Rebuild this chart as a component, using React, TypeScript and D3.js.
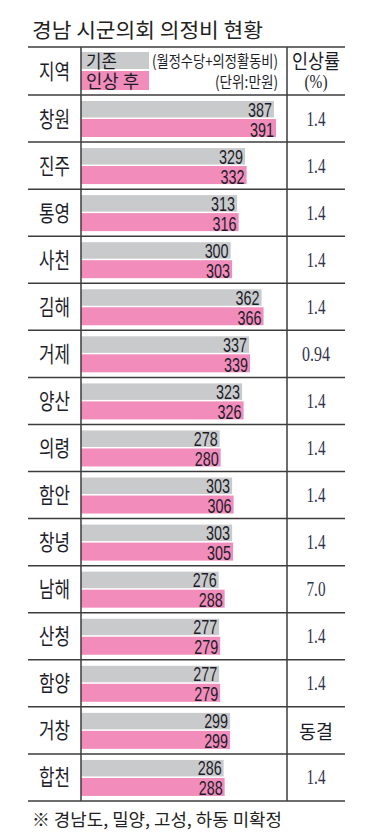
import * as React from "react";
import * as d3 from "d3";

const regions = ["창원", "진주", "통영", "사천", "김해", "거제", "양산", "의령", "함안", "창녕", "남해", "산청", "함양", "거창", "합천"];
const before = [387, 329, 313, 300, 362, 337, 323, 278, 303, 303, 276, 277, 277, 299, 286];
const after = [391, 332, 316, 303, 366, 339, 326, 280, 306, 305, 288, 279, 279, 299, 288];
const rates = ["1.4", "1.4", "1.4", "1.4", "1.4", "0.94", "1.4", "1.4", "1.4", "1.4", "7.0", "1.4", "1.4", "동결", "1.4"];

const W = 371;
const H = 838;

const sans = "'Noto Sans CJK KR', 'Noto Sans', sans-serif";
const narrow = "'Liberation Sans Narrow', 'Liberation Sans', Arial, sans-serif";
const serif = "'Liberation Serif', 'DejaVu Serif', serif";

const GRAY = "#c9cacc";
const PINK = "#f18cbb";
const LINE = "#3c3c3c";
const TEXT = "#1d1d2a";

export default function App() {
    // table frame
    let left = 28, right = 345;
    let col1 = 81, col2 = 287;
    let top = 47, headBottom = 95, bottom = 801;

    let y = d3.scaleBand<string>().domain(regions).range([headBottom, bottom]).padding(0);
    let x = d3.scaleLinear().domain([0, 400]).range([col1, col1 + 199.5]);

    let rateX = (col2 + right) / 2;
    let nameX = (left + col1) / 2;

    return (
        <svg width={W} height={H} style={{ position: "absolute", left: 0, top: 0, background: "#fff" }}>
            <text x={32} y={38} fontFamily={sans} fontSize={20.5} fill="#222" textLength={231} lengthAdjust="spacingAndGlyphs">경남 시군의회 의정비 현황</text>

            {/* header */}
            <rect x={col1} y={52} width={68} height={17} fill={GRAY} />
            <rect x={col1} y={71} width={68} height={19} fill={PINK} />
            <text x={nameX} y={79} textAnchor="middle" fontFamily={sans} fontSize={21} fill={TEXT} textLength={31} lengthAdjust="spacingAndGlyphs">지역</text>
            <text x={86} y={67.5} fontFamily={sans} fontSize={18.5} fill={TEXT} textLength={31} lengthAdjust="spacingAndGlyphs">기존</text>
            <text x={86} y={88} fontFamily={sans} fontSize={18.5} fill={TEXT} textLength={53} lengthAdjust="spacingAndGlyphs">인상 후</text>
            <text x={278} y={67} textAnchor="end" fontFamily={sans} fontSize={16} fill={TEXT} textLength={126} lengthAdjust="spacingAndGlyphs">(월정수당+의정활동비)</text>
            <text x={278} y={88} textAnchor="end" fontFamily={sans} fontSize={16} fill={TEXT} textLength={63} lengthAdjust="spacingAndGlyphs">(단위:만원)</text>
            <text x={rateX} y={69} textAnchor="middle" fontFamily={sans} fontSize={20} fill={TEXT} textLength={48} lengthAdjust="spacingAndGlyphs">인상률</text>
            <text x={rateX} y={88} textAnchor="middle" fontFamily={serif} fontSize={18} fill={TEXT} textLength={23} lengthAdjust="spacingAndGlyphs">(%)</text>

            {regions.map((r, i) => {
                let y0 = y(r) as number;
                let rate = rates[i];
                return (
                    <g key={r}>
                        <rect x={x(0)} y={y0 + 6} width={x(before[i]) - x(0)} height={16.5} fill={GRAY} />
                        <rect x={x(0)} y={y0 + 24} width={x(after[i]) - x(0)} height={18} fill={PINK} />
                        <text x={x(before[i]) - 2} y={y0 + 21.5} textAnchor="end" fontFamily={narrow} fontSize={21} fill={TEXT} textLength={24} lengthAdjust="spacingAndGlyphs">{before[i]}</text>
                        <text x={x(after[i]) - 2} y={y0 + 41.5} textAnchor="end" fontFamily={narrow} fontSize={21} fill={TEXT} textLength={24} lengthAdjust="spacingAndGlyphs">{after[i]}</text>
                        <text x={nameX} y={y0 + 31.5} textAnchor="middle" fontFamily={sans} fontSize={22} fill={TEXT} textLength={31} lengthAdjust="spacingAndGlyphs">{r}</text>
                        {rate === "동결" ? (
                            <text x={rateX} y={y0 + 32} textAnchor="middle" fontFamily={sans} fontSize={19.5} fill={TEXT} textLength={34} lengthAdjust="spacingAndGlyphs">{rate}</text>
                        ) : (
                            <text x={rateX} y={y0 + 30.5} textAnchor="middle" fontFamily={serif} fontSize={20} fill="#33334d" textLength={rate.length === 4 ? 28 : 19} lengthAdjust="spacingAndGlyphs">{rate}</text>
                        )}
                    </g>
                );
            })}

            {/* grid lines */}
            <line x1={left} x2={right} y1={top} y2={top} stroke={LINE} strokeWidth={1.5} />
            {regions.map(r => (
                <line key={"h" + r} x1={left} x2={right} y1={y(r)} y2={y(r)} stroke={LINE} strokeWidth={1.5} />
            ))}
            <line x1={left} x2={right} y1={bottom} y2={bottom} stroke={LINE} strokeWidth={1.5} />
            <line x1={col1} x2={col1} y1={top} y2={bottom} stroke={LINE} strokeWidth={1.5} />
            <line x1={col2} x2={col2} y1={top} y2={bottom} stroke={LINE} strokeWidth={1.5} />

            <text x={32} y={825.5} fontFamily={sans} fontSize={17.5} fill="#222" textLength={250} lengthAdjust="spacingAndGlyphs">※ 경남도, 밀양, 고성, 하동 미확정</text>
        </svg>
    );
}
